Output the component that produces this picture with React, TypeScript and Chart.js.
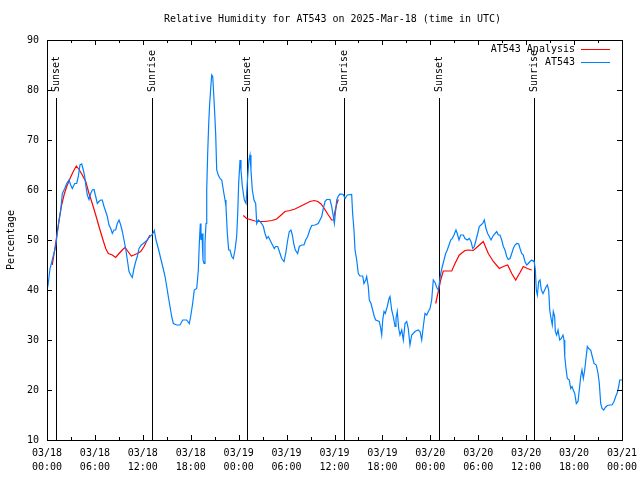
import { useEffect, useRef } from "react";
import { Chart, registerables } from "chart.js";

Chart.register(...registerables);

const TITLE = "Relative Humidity for AT543 on 2025-Mar-18 (time in UTC)";
const Y_TITLE = "Percentage";
const FONT_FAMILY = "'DejaVu Sans Mono', 'Liberation Mono', monospace";

// x tick labels (every 6 hours from 03/18 00:00 UTC)
const dateLabels = ["03/18", "03/18", "03/18", "03/18", "03/19", "03/19", "03/19", "03/19", "03/20", "03/20", "03/20", "03/20", "03/21"];
const timeLabels = ["00:00", "06:00", "12:00", "18:00", "00:00", "06:00", "12:00", "18:00", "00:00", "06:00", "12:00", "18:00", "00:00"];

// Sunrise / sunset markers (hours since 03/18 00:00 UTC)
const sunEventHours = [1.1, 13.2, 25.1, 37.15, 49.13, 61.0];
const sunEventLabels = ["Sunset", "Sunrise", "Sunset", "Sunrise", "Sunset", "Sunrise"];

// AT543 observed relative humidity (hours since start, %)
const blueHours = [
  0.0, 0.13, 0.38, 0.66, 0.88, 1.09, 1.29, 1.5, 1.72, 1.92, 2.22, 2.47, 2.75, 2.97, 3.17, 3.47, 3.72, 3.92, 4.13, 4.35,
  4.55, 4.72, 4.88, 5.05, 5.26, 5.47, 5.67, 5.89, 6.1, 6.3, 6.51, 6.72, 6.92, 7.14, 7.35, 7.55, 7.76, 7.98, 8.18, 8.39,
  8.6, 8.8, 9.02, 9.23, 9.43, 9.64, 9.85, 10.06, 10.27, 10.48, 10.68, 10.89, 11.11, 11.31, 11.52, 11.81, 12.06, 12.36, 12.56, 12.77,
  12.9, 13.24, 13.44, 13.65, 13.94, 14.24, 14.49, 14.78, 14.99, 15.19, 15.4, 15.61, 15.82, 16.24, 16.65, 16.99, 17.49, 17.82, 17.99, 18.24,
  18.44, 18.75, 18.95, 19.07, 19.2, 19.28, 19.41, 19.53, 19.66, 19.78, 19.91, 20.0, 20.12, 20.25, 20.37, 20.5, 20.62, 20.75, 20.87, 21.0,
  21.12, 21.25, 21.45, 21.66, 21.88, 22.08, 22.29, 22.41, 22.58, 22.75, 22.92, 23.13, 23.33, 23.54, 23.75, 23.88, 24.0, 24.17, 24.29, 24.46,
  24.71, 24.92, 25.13, 25.29, 25.42, 25.54, 25.71, 25.92, 26.13, 26.26, 26.46, 26.67, 26.88, 27.09, 27.3, 27.51, 27.71, 27.92, 28.14, 28.46,
  28.64, 28.89, 29.18, 29.39, 29.68, 29.89, 30.14, 30.34, 30.55, 30.72, 30.89, 31.09, 31.39, 31.59, 31.89, 32.18, 32.39, 32.64, 32.9, 33.15,
  33.56, 33.97, 34.18, 34.4, 34.6, 34.81, 35.02, 35.44, 35.65, 35.85, 35.98, 36.15, 36.28, 36.48, 36.69, 37.1, 37.32, 37.6, 38.15, 38.27,
  38.44, 38.57, 38.78, 38.98, 39.19, 39.53, 39.69, 39.91, 40.03, 40.23, 40.36, 40.57, 40.78, 40.98, 41.16, 41.61, 41.79, 41.91, 42.04, 42.2,
  42.36, 42.61, 42.83, 42.95, 43.16, 43.36, 43.58, 43.7, 43.86, 44.04, 44.2, 44.42, 44.62, 44.83, 45.04, 45.24, 45.45, 45.67, 46.08, 46.49,
  46.71, 46.92, 47.12, 47.33, 47.55, 47.75, 47.96, 48.17, 48.37, 48.59, 48.8, 49.0, 49.12, 49.3, 49.5, 49.71, 49.92, 50.12, 50.34, 50.55,
  50.75, 50.96, 51.21, 51.37, 51.59, 51.8, 52.13, 52.34, 52.63, 52.88, 53.09, 53.31, 53.51, 53.72, 53.93, 54.13, 54.34, 54.56, 54.76, 54.97,
  55.18, 55.38, 55.6, 55.81, 56.1, 56.31, 56.51, 56.72, 56.94, 57.14, 57.35, 57.56, 57.76, 57.98, 58.19, 58.39, 58.6, 58.82, 59.07, 59.23,
  59.44, 59.64, 59.85, 60.07, 60.27, 60.48, 60.69, 60.9, 60.98, 61.15, 61.27, 61.4, 61.57, 61.73, 61.9, 62.11, 62.32, 62.52, 62.65, 62.82,
  62.95, 63.15, 63.27, 63.4, 63.57, 63.65, 63.82, 63.99, 64.2, 64.4, 64.61, 64.74, 64.83, 64.99, 65.15, 65.4, 65.58, 65.74, 65.9, 66.08,
  66.28, 66.49, 66.7, 66.83, 66.99, 67.16, 67.33, 67.49, 67.66, 67.83, 68.08, 68.28, 68.5, 68.78, 69.0, 69.16, 69.33, 69.5, 69.71, 69.91,
  70.16, 70.46, 70.75, 71.0, 71.21, 71.41, 71.59, 71.71, 72.0,
];
const blueValues = [
  40, 41, 44.3, 46, 47.4, 48.7, 51.4, 54, 56, 59.3, 60.3, 61.3, 62, 61, 60.3, 61.3, 61.3, 62.7, 65, 65.2,
  64, 62.7, 60.7, 59, 58.1, 59.3, 60, 60.1, 58.7, 57.3, 57.7, 58, 58, 56.7, 55.7, 54.7, 53, 52.3, 51.3, 52,
  52, 53.3, 54, 53, 51.7, 50, 48.3, 46, 43.7, 43, 42.5, 44.3, 45.7, 46.7, 48.3, 49, 49.3, 49.7, 50, 50.5,
  50.7, 51.2, 51.9, 50, 48.3, 46.3, 44.7, 42.7, 40.7, 38.7, 36.7, 34.7, 33.3, 33, 33, 34, 34, 33.3, 34.7, 37.3,
  40, 40.3, 44, 49.3, 53.3, 50, 51.3, 46, 45.3, 49.3, 53.3, 60, 67.3, 73.3, 77.3, 80.3, 83, 82.7, 79.3, 75.3,
  71.3, 64, 63, 62.3, 62, 60, 58, 56.7, 51.3, 48, 48, 46.7, 46.3, 48, 50.7, 55.3, 61.3, 66, 64, 60.7,
  58, 57.3, 62.7, 66, 67, 64, 60, 58, 57.3, 53.3, 54, 53.7, 53.3, 52.7, 51.3, 50.3, 50.7, 50, 49.3, 48.3,
  48.7, 48.7, 47.3, 46.3, 45.7, 47.3, 50, 51.7, 52, 51, 49.3, 48, 47.3, 48.7, 49, 49, 50, 50.7, 52, 52.9,
  53, 53.3, 54, 54.7, 56.3, 57.7, 58.1, 58.1, 56.7, 54.7, 53.3, 56, 58, 58.8, 59.2, 59.1, 58.3, 59, 59.1, 55.3,
  52, 48, 46, 43.3, 42.8, 42.8, 41.3, 42, 42.7, 40.7, 38, 37.3, 36, 34.7, 34, 33.7, 32.3, 31, 34, 35.7,
  35.3, 36.7, 38.3, 38.7, 36, 34.7, 32.7, 34.3, 35.7, 32.3, 31, 32, 30, 33.3, 33.7, 32.3, 29, 31, 31.7, 32,
  31.7, 30, 32.7, 35.3, 35, 35.7, 36.3, 38, 42, 41.5, 40.5, 40, 41.3, 43.3, 44.7, 46, 47.3, 48, 49, 50,
  50.3, 51, 52, 51.3, 50, 51, 51, 50.3, 50, 50.3, 49.7, 48.3, 48.7, 50, 51.3, 52.7, 53, 53.3, 54, 52.3,
  51.3, 50.7, 50, 50.7, 51.3, 51.7, 51, 51, 50, 48.7, 48, 46.7, 46.1, 46.3, 47.3, 48.3, 49, 49.3, 49.2, 48.3,
  47.3, 47, 45.7, 45, 45.3, 45.7, 46, 45.7, 46, 44, 40, 39, 41.7, 42, 40, 39.3, 40, 40.7, 41, 40,
  36, 34, 33, 35.7, 34.7, 31.7, 31, 32, 30, 30.3, 31, 30, 26.7, 24.3, 22.3, 22, 20.3, 20.7, 20, 19.3,
  17.3, 17.7, 20.7, 22.7, 24, 22.3, 24, 26.3, 28.7, 28.3, 28, 26.7, 25.3, 25, 23.3, 21.3, 17.3, 16.3, 16, 16.5,
  16.9, 17, 17, 17.7, 18.7, 19.5, 20.7, 22, 22,
];

// AT543 Analysis (null = gap between analysis periods)
const redHours = [
  0.66, 0.96, 1.21, 1.5, 1.79, 2.13, 2.47, 2.88, 3.29, 3.67, 4.01, 4.42, 4.85, 5.26, 5.67, 6.1, 6.51, 6.92, 7.35, 7.68,
  8.18, 8.6, 9.02, 9.43, 9.77, 10.14, 10.56, 10.89, 11.31, 11.73, 12.15, 12.56, 12.9,
  18.0,
  24.58, 25.0, 25.63, 26.05, 26.46, 27.3, 28.14, 28.76, 29.18, 29.8, 30.43, 31.05, 31.68, 32.31, 32.93, 33.47, 33.9, 34.31, 34.72, 35.15,
  35.65, 35.85, 36.06, 36.28, 36.48,
  42.0,
  48.67, 49.0, 49.3, 49.62, 50.68, 51.09, 51.63, 52.34, 52.76, 53.38, 54.01, 54.63, 55.26, 55.89, 56.64, 57.14, 57.69, 58.19, 58.69, 59.23,
  59.64, 60.14, 60.69,
];
const redValues = [
  45, 48, 50.7, 53.7, 56.7, 59, 60.7, 62.3, 63.7, 64.8, 64.1, 63, 61.7, 59.3, 57.3, 55, 52.7, 50.5, 48.3, 47.3,
  47, 46.5, 47.3, 48, 48.5, 47.7, 46.8, 47, 47.3, 47.7, 48.7, 50, 51,
  null,
  54.9, 54.3, 54, 53.8, 53.7, 53.7, 53.9, 54.2, 54.8, 55.7, 55.9, 56.2, 56.7, 57.2, 57.7, 57.9, 57.7, 57.2, 56.3, 55.2,
  54, 54, 55.7, 57.2, 58.1,
  null,
  37.3, 39.7, 42, 43.8, 43.8, 45.3, 47, 47.9, 48, 47.9, 48.8, 49.7, 47.3, 45.7, 44.3, 44.7, 45, 43.3, 42, 43.5,
  44.7, 44.3, 44,
];

const FONT = `10px ${FONT_FAMILY}`;

const gnuplotDecor = {
  id: "gnuplotDecor",
  beforeDatasetsDraw(chart: any) {
    const { ctx, chartArea, scales } = chart;
    const x = scales.x;
    ctx.save();
    ctx.strokeStyle = "#000";
    ctx.fillStyle = "#000";
    ctx.lineWidth = 1;
    ctx.font = FONT;
    sunEventHours.forEach((h, i) => {
      const px = Math.round(x.getPixelForValue(h)) + 0.5;
      ctx.beginPath();
      ctx.moveTo(px, chartArea.top + 58);
      ctx.lineTo(px, chartArea.bottom);
      ctx.stroke();
      ctx.save();
      ctx.translate(px, chartArea.top + 52);
      ctx.rotate(-Math.PI / 2);
      ctx.textAlign = "left";
      ctx.textBaseline = "middle";
      ctx.fillText(sunEventLabels[i], 0, 0);
      ctx.restore();
    });
    ctx.restore();
  },
  afterDraw(chart: any) {
    const { ctx, chartArea, scales } = chart;
    const { left, right, top, bottom } = chartArea;
    const x = scales.x;
    const y = scales.y;
    ctx.save();
    // title
    ctx.fillStyle = "#000";
    ctx.font = FONT;
    ctx.textAlign = "center";
    ctx.textBaseline = "middle";
    ctx.fillText(TITLE, (left + right) / 2 - 2, top - 21);
    ctx.strokeStyle = "#000";
    ctx.lineWidth = 1;
    // border
    ctx.strokeRect(Math.round(left) + 0.5, Math.round(top) + 0.5, Math.round(right - left), Math.round(bottom - top));
    // ticks
    ctx.beginPath();
    const xt = x.ticks.map((t: any) => t.value);
    xt.forEach((v: number, i: number) => {
      const px = Math.round(x.getPixelForValue(v)) + 0.5;
      ctx.moveTo(px, bottom);
      ctx.lineTo(px, bottom - 5);
      ctx.moveTo(px, top);
      ctx.lineTo(px, top + 5);
      if (i < xt.length - 1) {
        const pm = Math.round(x.getPixelForValue((v + xt[i + 1]) / 2)) + 0.5;
        ctx.moveTo(pm, bottom);
        ctx.lineTo(pm, bottom - 3);
        ctx.moveTo(pm, top);
        ctx.lineTo(pm, top + 3);
      }
    });
    y.ticks.forEach((t: any) => {
      const py = Math.round(y.getPixelForValue(t.value)) + 0.5;
      ctx.moveTo(left, py);
      ctx.lineTo(left + 5, py);
      ctx.moveTo(right, py);
      ctx.lineTo(right - 5, py);
    });
    ctx.stroke();
    // key (legend)
    ctx.font = FONT;
    ctx.textAlign = "right";
    ctx.textBaseline = "middle";
    chart.data.datasets.forEach((ds: any, i: number) => {
      const ly = Math.round(top + 9 + 13 * i) + 0.5;
      ctx.fillStyle = "#000";
      ctx.fillText(ds.label, right - 47, ly);
      ctx.strokeStyle = ds.borderColor;
      ctx.beginPath();
      ctx.moveTo(right - 41, ly);
      ctx.lineTo(right - 12, ly);
      ctx.stroke();
    });
    ctx.restore();
  },
};

export default function App() {
  const canvasRef = useRef<HTMLCanvasElement | null>(null);

  useEffect(() => {
    document.body.style.margin = "0";
    const canvas = canvasRef.current;
    if (!canvas) return;
    const tickFont = { family: FONT_FAMILY, size: 10, weight: "normal" as const, lineHeight: 1.4 };
    const chart = new Chart(canvas, {
      type: "line",
      data: {
        datasets: [
          {
            label: "AT543 Analysis",
            data: redHours.map((h, i) => ({ x: h, y: redValues[i] })),
            borderColor: "#ff0000",
            backgroundColor: "#ff0000",
            borderWidth: 1.2,
            pointRadius: 0,
            tension: 0,
            spanGaps: false,
            order: 1,
          },
          {
            label: "AT543",
            data: blueHours.map((h, i) => ({ x: h, y: blueValues[i] })),
            borderColor: "#0080ff",
            backgroundColor: "#0080ff",
            borderWidth: 1.2,
            pointRadius: 0,
            tension: 0,
            order: 0,
          },
        ],
      },
      options: {
        responsive: false,
        maintainAspectRatio: false,
        animation: false,
        devicePixelRatio: 1,
        layout: { padding: { left: 0, right: 18, top: 40, bottom: 0 } },
        plugins: {
          legend: { display: false },
          tooltip: { enabled: false },
          title: { display: false },
        },
        scales: {
          x: {
            type: "linear",
            min: 0,
            max: 72,
            grid: { display: false, drawTicks: false },
            border: { display: false },
            ticks: {
              stepSize: 6,
              autoSkip: false,
              maxRotation: 0,
              padding: 6,
              color: "#000",
              font: tickFont,
              callback: (_v: any, index: number) => [dateLabels[index], timeLabels[index]],
            },
            afterFit: (s: any) => {
              s.height = 40;
              s.paddingLeft = 0;
              s.paddingRight = 0;
            },
          },
          y: {
            type: "linear",
            min: 10,
            max: 90,
            grid: { display: false, drawTicks: false },
            border: { display: false },
            ticks: {
              stepSize: 10,
              padding: 8,
              color: "#000",
              font: { family: FONT_FAMILY, size: 10, weight: "normal" },
            },
            title: {
              display: true,
              text: Y_TITLE,
              color: "#000",
              font: { family: FONT_FAMILY, size: 10, weight: "normal", lineHeight: 1.2 },
              padding: { top: 5, bottom: 0 },
            },
            afterFit: (s: any) => {
              s.width = 47;
              s.paddingTop = 0;
              s.paddingBottom = 0;
            },
          },
        },
      },
      plugins: [gnuplotDecor],
    });
    return () => chart.destroy();
  }, []);

  return (
    <div style={{ position: "absolute", left: 0, top: 0, width: 640, height: 480, background: "#fff" }}>
      <canvas ref={canvasRef} width={640} height={480} style={{ display: "block" }} />
    </div>
  );
}
